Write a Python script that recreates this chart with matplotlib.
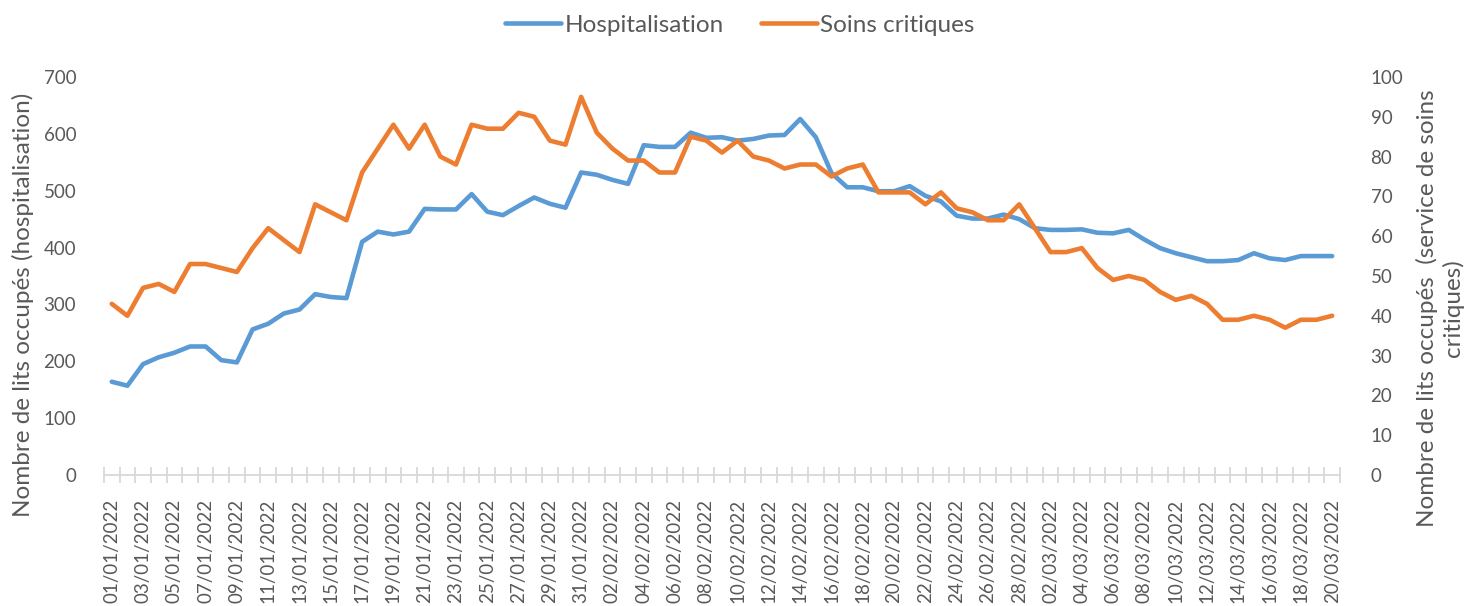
import numpy as np
import matplotlib
matplotlib.use('Agg')
import matplotlib.pyplot as plt
import pandas as pd

plt.rcParams['font.family'] = ['Lato', 'DejaVu Sans']

# données
dates = pd.date_range('2022-01-01', '2022-03-20', freq='D').strftime('%d/%m/%Y').tolist()

hospitalisation = [164, 157, 195, 207, 215, 226, 226, 202, 198, 256,
                   266, 284, 291, 318, 313, 311, 410, 428, 423, 428,
                   468, 467, 467, 494, 463, 457, 473, 488, 477, 470,
                   532, 528, 519, 512, 580, 577, 577, 602, 593, 594,
                   588, 591, 597, 598, 626, 594, 531, 506, 506, 499,
                   499, 508, 491, 481, 456, 451, 451, 458, 450, 434,
                   431, 431, 432, 426, 425, 431, 414, 399, 390, 383,
                   376, 376, 378, 390, 381, 378, 385, 385, 385]

soins_critiques = [43, 40, 47, 48, 46, 53, 53, 52, 51, 57,
                   62, 59, 56, 68, 66, 64, 76, 82, 88, 82,
                   88, 80, 78, 88, 87, 87, 91, 90, 84, 83,
                   95, 86, 82, 79, 79, 76, 76, 85, 84, 81,
                   84, 80, 79, 77, 78, 78, 75, 77, 78, 71,
                   71, 71, 68, 71, 67, 66, 64, 64, 68, 62,
                   56, 56, 57, 52, 49, 50, 49, 46, 44, 45,
                   43, 39, 39, 40, 39, 37, 39, 39, 40]

gris = '#595959'
x = np.arange(len(dates))

fig = plt.figure(figsize=(14.68, 6.06), dpi=100)
ax = fig.add_axes([0.0708, 0.2162, 0.8420, 0.6568])
ax2 = ax.twinx()

l1, = ax.plot(x, hospitalisation, color='#5B9BD5', linewidth=3.3, label='Hospitalisation',
              solid_capstyle='round', solid_joinstyle='round')
l2, = ax2.plot(x, soins_critiques, color='#ED7D31', linewidth=3.3, label='Soins critiques',
               solid_capstyle='round', solid_joinstyle='round')
ax2.set_zorder(ax.get_zorder() + 1)

ax.set_xlim(-0.5, len(dates) - 0.5)
ax.set_ylim(0, 700)
ax2.set_ylim(0, 100)
ax.set_yticks(range(0, 701, 100))
ax2.set_yticks(range(0, 101, 10))

# axe des x : ticks entre catégories, étiquettes une sur deux
ax.set_xticks(x[::2])
ax.set_xticklabels(dates[::2], rotation=90, fontsize=13.5, color=gris)
ax.set_xticks(np.arange(-0.5, len(dates), 1), minor=True)
ax.tick_params(axis='x', which='major', length=0, pad=17)
ax.tick_params(axis='x', which='minor', length=11, direction='inout', color='#d9d9d9', width=1.3)

ax.tick_params(axis='y', length=0, pad=20, labelsize=13.5, labelcolor=gris)
ax2.tick_params(axis='y', length=0, pad=22, labelsize=13.5, labelcolor=gris)

for a in (ax, ax2):
    for s in ('top', 'left', 'right'):
        a.spines[s].set_visible(False)
ax.spines['bottom'].set_color('#d9d9d9')
ax.spines['bottom'].set_linewidth(1.3)
ax2.spines['bottom'].set_visible(False)

# titres des axes
fig.text(23 / 1468, 1 - 305 / 606, 'Nombre de lits occupés (hospitalisation)',
         rotation=90, ha='center', va='center', fontsize=17.5, color=gris)
fig.text(1440 / 1468, 1 - 308 / 606, 'Nombre de lits occupés  (service de soins\ncritiques)',
         rotation=90, ha='center', va='center', fontsize=17.5, color=gris,
         multialignment='center', linespacing=1.2)

fig.legend(handles=[l1, l2], loc='center', bbox_to_anchor=(740 / 1468, 0.958), ncol=2,
           frameon=False, fontsize=17.5, handlelength=2.3, handletextpad=0.15,
           columnspacing=1.5, labelcolor=gris)

fig.savefig('out.png', dpi=100)
